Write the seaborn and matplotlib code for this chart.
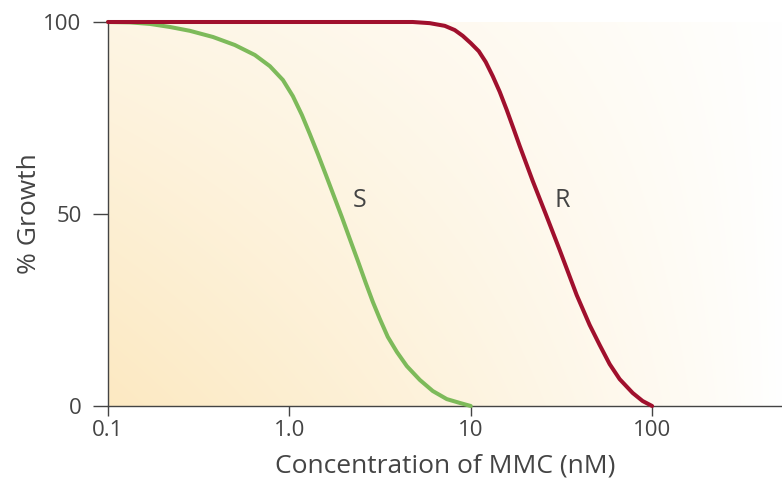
import numpy as np
import pandas as pd
import matplotlib
matplotlib.use("Agg")
import matplotlib.pyplot as plt
import seaborn as sns

# Dose-response readings: MMC concentration (nM) vs. % growth
conc_s = [0.1, 0.1322, 0.1703, 0.2196, 0.283, 0.379, 0.5007, 0.6455, 0.7807, 0.921,
          1.045, 1.172, 1.297, 1.436, 1.589, 1.759, 1.947, 2.154, 2.385, 2.639,
          2.885, 3.152, 3.488, 3.911, 4.44, 5.236, 6.175, 7.375, 8.7, 10.0]
growth_s = [100, 99.9, 99.5, 98.7, 97.7, 96.1, 94.0, 91.4, 88.5, 84.9,
            80.7, 75.8, 70.8, 65.6, 60.2, 54.7, 49.2, 43.5, 37.8, 32.0,
            27.1, 22.7, 18.0, 14.1, 10.4, 6.8, 3.9, 1.8, 0.8, 0]

conc_r = [0.1, 4.79, 5.94, 7.19, 8.16, 9.03, 10.0, 11.07, 12.09, 13.22,
          14.45, 15.79, 17.25, 18.62, 21.96, 25.9, 30.94, 38.37, 45.24, 51.36,
          58.33, 66.2, 78.1, 88.6, 100]
growth_r = [100, 100, 99.7, 99.0, 97.9, 96.4, 94.5, 92.4, 89.6, 85.9,
            81.8, 77.1, 72.1, 67.7, 58.6, 50.0, 40.6, 28.9, 21.1, 15.9,
            10.9, 7.0, 3.4, 1.3, 0]

curve_names = ["S", "R"]
curve_colors = ["#7dba5a", "#a0102d"]
label_pos = [(2.44, 53.6), (32.0, 53.6)]

x_ticks = [0.1, 1.0, 10, 100]
x_tick_labels = ["0.1", "1.0", "10", "100"]
y_ticks = [0, 50, 100]

df = pd.concat([
    pd.DataFrame({"conc": conc_s, "growth": growth_s, "line": "S"}),
    pd.DataFrame({"conc": conc_r, "growth": growth_r, "line": "R"}),
])

sns.set_theme(style="white")
plt.rcParams["font.family"] = ["Open Sans", "DejaVu Sans"]
text_color = "#444444"

fig = plt.figure(figsize=(7.82, 4.8), dpi=100)
ax = fig.add_axes([108 / 782, 74 / 480, 1 - 108 / 782, 384 / 480])

# warm cream wash, strongest in the lower-left corner and fading to white on the right
u = np.linspace(0, 1, 400)[None, :]
v = np.linspace(0, 1, 250)[:, None]
intensity = (1 - u) ** 0.85 * (1 - 0.55 * v)
base = np.array([252, 233, 194]) / 255.0
img = 1 - intensity[..., None] * (1 - base)
ax.imshow(img, extent=[0, 1, 0, 1], transform=ax.transAxes, origin="lower",
          aspect="auto", zorder=0, interpolation="bicubic")

sns.lineplot(data=df, x="conc", y="growth", hue="line", hue_order=curve_names,
             palette=curve_colors, linewidth=2.9, sort=False, legend=False,
             estimator=None, ax=ax, zorder=3)
for ln in ax.lines:
    ln.set_clip_on(False)
    ln.set_solid_capstyle("round")
    ln.set_solid_joinstyle("round")

for name, (lx, ly) in zip(curve_names, label_pos):
    ax.text(lx, ly, name, fontsize=18, color=text_color, ha="center", va="center", zorder=4)

ax.set_xscale("log")
ax.set_xlim(0.1, 520)
ax.set_ylim(0, 100)
ax.set_xticks(x_ticks)
ax.set_xticklabels(x_tick_labels)
ax.xaxis.set_minor_locator(matplotlib.ticker.NullLocator())
ax.set_yticks(y_ticks)

for side in ["top", "right"]:
    ax.spines[side].set_visible(False)
for side in ["left", "bottom"]:
    ax.spines[side].set_color("#444444")
    ax.spines[side].set_linewidth(1.0)

ax.tick_params(axis="y", direction="out", length=11, width=1.0, color="#444444",
               labelsize=16, labelcolor=text_color, pad=8, left=True)
ax.tick_params(axis="x", direction="out", length=7, width=1.0, color="#444444",
               labelsize=16, labelcolor=text_color, pad=3, bottom=True)

ax.set_xlabel("Concentration of MMC (nM)", fontsize=19, color=text_color, labelpad=9)
ax.set_ylabel("% Growth", fontsize=19, color=text_color, labelpad=1)

fig.savefig("out.png", dpi=100)
